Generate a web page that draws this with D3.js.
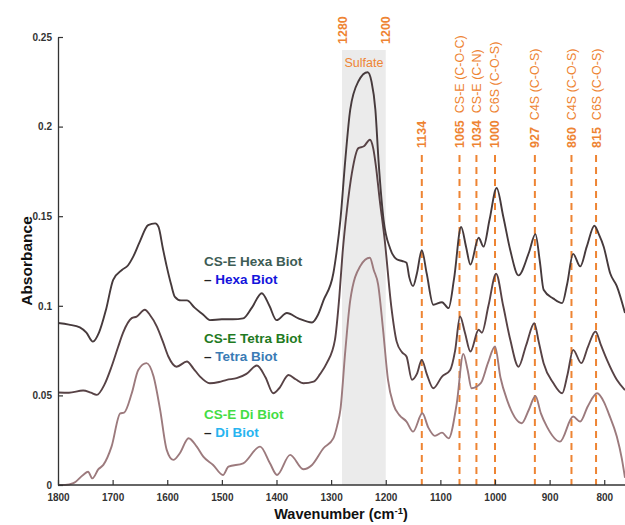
<!DOCTYPE html>
<html><head><meta charset="utf-8">
<script src="https://cdn.jsdelivr.net/npm/d3@7"></script>
<style>
html,body{margin:0;padding:0;background:#fff;}
svg{display:block;font-family:Arial,"Liberation Sans",sans-serif;}
</style></head>
<body><svg id="c" width="625" height="525"></svg>
<script>
// ---- data ----
const hexaWavenumber = [1800,1780,1760,1748,1736,1725,1712,1699,1683,1672,1663,1650,1635,1622,1616,1608,1601,1593,1586,1575,1564,1550,1534,1522,1500,1480,1461,1445,1427,1413,1400,1381,1360,1335,1324,1314,1296,1290,1283,1274,1265,1250,1233,1226,1219,1213,1204,1192,1180,1170,1162,1157,1150,1143,1134,1125,1113,1097,1085,1075,1062,1053,1045,1030,1021,1010,997,985,972,957,938,926,918,911,893,877,868,857,844,832,818,810,801,789,777,762];
const hexaAbsorbance = [0.0904,0.0895,0.0880,0.0850,0.0800,0.0850,0.0980,0.1145,0.1200,0.1225,0.1270,0.1360,0.1450,0.1460,0.1440,0.1320,0.1220,0.1120,0.1050,0.1030,0.1030,0.0990,0.0950,0.0920,0.0925,0.0925,0.0930,0.0990,0.1070,0.1000,0.0920,0.0960,0.0930,0.0907,0.0950,0.1030,0.1180,0.1300,0.1480,0.1816,0.2095,0.2253,0.2303,0.2250,0.2095,0.1800,0.1480,0.1320,0.1260,0.1250,0.1240,0.1160,0.1110,0.1180,0.1310,0.1180,0.1006,0.1020,0.0987,0.1150,0.1440,0.1330,0.1230,0.1380,0.1330,0.1480,0.1657,0.1500,0.1310,0.1170,0.1296,0.1400,0.1250,0.1090,0.1040,0.1015,0.1120,0.1290,0.1220,0.1330,0.1447,0.1400,0.1330,0.1180,0.1110,0.0960];

const tetraWavenumber = [1800,1780,1754,1740,1729,1715,1702,1690,1681,1665,1656,1641,1632,1619,1608,1598,1583,1564,1552,1540,1522,1505,1491,1473,1455,1436,1420,1406,1395,1378,1365,1351,1332,1320,1308,1293,1285,1279,1271,1262,1250,1240,1229,1223,1218,1211,1202,1190,1180,1170,1162,1152,1143,1134,1125,1113,1097,1082,1073,1064,1055,1045,1030,1024,1012,998,985,972,957,943,928,920,911,893,877,867,857,842,830,816,806,795,777,762];
const tetraAbsorbance = [0.0516,0.0515,0.0527,0.0515,0.0503,0.0560,0.0660,0.0770,0.0849,0.0931,0.0940,0.0978,0.0950,0.0884,0.0800,0.0717,0.0660,0.0689,0.0650,0.0605,0.0568,0.0575,0.0587,0.0596,0.0620,0.0667,0.0600,0.0512,0.0540,0.0614,0.0590,0.0568,0.0577,0.0620,0.0680,0.0810,0.1050,0.1296,0.1536,0.1740,0.1880,0.1890,0.1927,0.1880,0.1780,0.1590,0.1370,0.1000,0.0800,0.0740,0.0717,0.0587,0.0620,0.0698,0.0620,0.0540,0.0605,0.0642,0.0750,0.0940,0.0850,0.0745,0.0866,0.0850,0.1000,0.1179,0.1000,0.0810,0.0660,0.0780,0.0903,0.0800,0.0680,0.0568,0.0512,0.0620,0.0754,0.0680,0.0770,0.0857,0.0780,0.0698,0.0587,0.0530];

const diWavenumber = [1800,1787,1772,1754,1745,1737,1726,1717,1702,1686,1679,1665,1653,1638,1625,1613,1601,1589,1577,1561,1546,1534,1516,1498,1488,1461,1430,1412,1399,1375,1351,1335,1314,1296,1289,1283,1274,1265,1247,1229,1222,1214,1205,1196,1186,1175,1162,1150,1133,1122,1110,1097,1085,1070,1058,1050,1043,1026,1013,1000,990,978,951,938,926,916,905,881,857,844,830,813,800,792,777,768,762];
const diAbsorbance = [0.0000,0.0000,0.0010,0.0056,0.0074,0.0037,0.0088,0.0112,0.0214,0.0400,0.0404,0.0512,0.0642,0.0680,0.0605,0.0419,0.0196,0.0140,0.0177,0.0261,0.0214,0.0158,0.0112,0.0056,0.0102,0.0121,0.0214,0.0121,0.0056,0.0168,0.0088,0.0112,0.0205,0.0260,0.0330,0.0420,0.0750,0.1030,0.1220,0.1268,0.1200,0.1120,0.0870,0.0590,0.0450,0.0390,0.0354,0.0298,0.0400,0.0320,0.0274,0.0292,0.0260,0.0456,0.0732,0.0640,0.0540,0.0568,0.0680,0.0773,0.0600,0.0475,0.0345,0.0420,0.0497,0.0400,0.0326,0.0242,0.0382,0.0354,0.0440,0.0512,0.0460,0.0400,0.0270,0.0150,0.0040];

const xTicks = [1800,1700,1600,1500,1400,1300,1200,1100,1000,900,800];
const yTicks = [0,0.05,0.1,0.15,0.2,0.25];
const sulfateBand = [1280,1200];
const bandLabels = ["1280","1200"];
const peakPositions = [1134,1065,1034,1000,927,860,815];
const peakNumbers = ["1134","1065","1034","1000","927","860","815"];
const peakNames = ["","CS-E (C-O-C)","CS-E (C-N)","C6S (C-O-S)","C4S (C-O-S)","C4S (C-O-S)","C6S (C-O-S)"];
const legendTop = ["CS-E Hexa Biot","CS-E Tetra Biot","CS-E Di Biot"];
const legendBottom = ["Hexa Biot","Tetra Biot","Di Biot"];

// ---- drawing ----
const svg = d3.select("#c");
const mLeft = 58, mRight = 625, mTop = 37, mBottom = 485;
const x = d3.scaleLinear().domain([1800, 762]).range([mLeft, mRight]);
const y = d3.scaleLinear().domain([0, 0.25]).range([mBottom, mTop]);
const orange = "#EE8433";

// sulfate band
svg.append("rect")
  .attr("x", x(sulfateBand[0])).attr("y", 50)
  .attr("width", x(sulfateBand[1]) - x(sulfateBand[0]))
  .attr("height", mBottom - 50).attr("fill", "#ebebeb");
svg.append("text").attr("x", (x(sulfateBand[0]) + x(sulfateBand[1])) / 2).attr("y", 67)
  .attr("text-anchor", "middle").attr("fill", orange).attr("font-size", 12.5).text("Sulfate");
sulfateBand.forEach((v, i) => {
  svg.append("text").attr("transform", `translate(${x(v)},44) rotate(-90)`)
    .attr("dy", "0.36em").attr("fill", orange).attr("font-size", 12.5).attr("font-weight", "bold")
    .text(bandLabels[i]);
});

// dashed peak lines
peakPositions.forEach((v, i) => {
  svg.append("line").attr("x1", x(v)).attr("x2", x(v)).attr("y1", 155).attr("y2", mBottom)
    .attr("stroke", orange).attr("stroke-width", 2).attr("stroke-dasharray", "7,5");
  const t = svg.append("text").attr("transform", `translate(${x(v)},148) rotate(-90)`)
    .attr("dy", "0.36em").attr("fill", orange).attr("font-size", 12.5);
  t.append("tspan").attr("font-weight", "bold").text(peakNumbers[i]);
  if (peakNames[i]) t.append("tspan").attr("dx", 7).text(peakNames[i]);
});

// curves
const clip = svg.append("defs").append("clipPath").attr("id", "pc");
clip.append("rect").attr("x", mLeft).attr("y", 0).attr("width", mRight - mLeft).attr("height", mBottom + 2);
const line = d3.line().x(d => x(d[0])).y(d => y(d[1])).curve(d3.curveMonotoneX);
const series = [
  {wn: diWavenumber, ab: diAbsorbance, color: "#9c7a7d"},
  {wn: tetraWavenumber, ab: tetraAbsorbance, color: "#574245"},
  {wn: hexaWavenumber, ab: hexaAbsorbance, color: "#463a3c"}
];
series.forEach(s => {
  const pts = s.wn.map((w, i) => [w, s.ab[i]]);
  svg.append("path").datum(pts).attr("d", line).attr("fill", "none")
    .attr("stroke", s.color).attr("stroke-width", 1.9).attr("clip-path", "url(#pc)");
});

// axes
const xAxis = svg.append("g").attr("transform", `translate(0,${mBottom})`)
  .call(d3.axisBottom(x).tickValues(xTicks).tickSizeInner(-5).tickSizeOuter(0).tickPadding(9).tickFormat(d3.format("d")));
const yAxis = svg.append("g").attr("transform", `translate(${mLeft},0)`)
  .call(d3.axisLeft(y).tickValues(yTicks).tickSizeInner(-5).tickSizeOuter(0).tickPadding(6).tickFormat(d => d === 0 ? "0" : String(d)));
[xAxis, yAxis].forEach(g => {
  g.select(".domain").attr("stroke", "#333").attr("stroke-width", 1.3);
  g.selectAll(".tick line").attr("stroke", "#333").attr("stroke-width", 1.2);
  g.selectAll(".tick text").attr("fill", "#333").attr("font-size", 10).attr("font-weight", "bold")
    .attr("font-family", "Arial, 'Liberation Sans', sans-serif");
});
xAxis.select(".domain").attr("d", `M${mLeft},0H${mRight}`);

// axis titles
svg.append("text").attr("transform", "translate(26,261) rotate(-90)").attr("text-anchor", "middle")
  .attr("dy", "0.36em").attr("font-size", 15.5).attr("font-weight", "bold").attr("fill", "#111").text("Absorbance");
const xt = svg.append("text").attr("x", 341).attr("y", 519).attr("text-anchor", "middle")
  .attr("font-size", 14.5).attr("font-weight", "bold").attr("fill", "#111");
xt.append("tspan").text("Wavenumber (cm");
xt.append("tspan").attr("dy", -5).attr("font-size", 9.5).text("-1");
xt.append("tspan").attr("dy", 5).text(")");

// legend labels
const topColors = ["#3d5c55", "#1f7a22", "#44dd44"];
const botColors = ["#1414dc", "#3a7bb5", "#27b4f0"];
const baseY = [266, 343, 419];
legendTop.forEach((t, i) => {
  svg.append("text").attr("x", 204).attr("y", baseY[i]).attr("font-size", 13.5).attr("font-weight", "bold")
    .attr("fill", topColors[i]).text(t);
  const b = svg.append("text").attr("x", 204).attr("y", baseY[i] + 17.5).attr("font-size", 13.5).attr("font-weight", "bold");
  b.append("tspan").attr("fill", "#222").text("– ");
  b.append("tspan").attr("fill", botColors[i]).text(legendBottom[i]);
});
</script></body></html>
